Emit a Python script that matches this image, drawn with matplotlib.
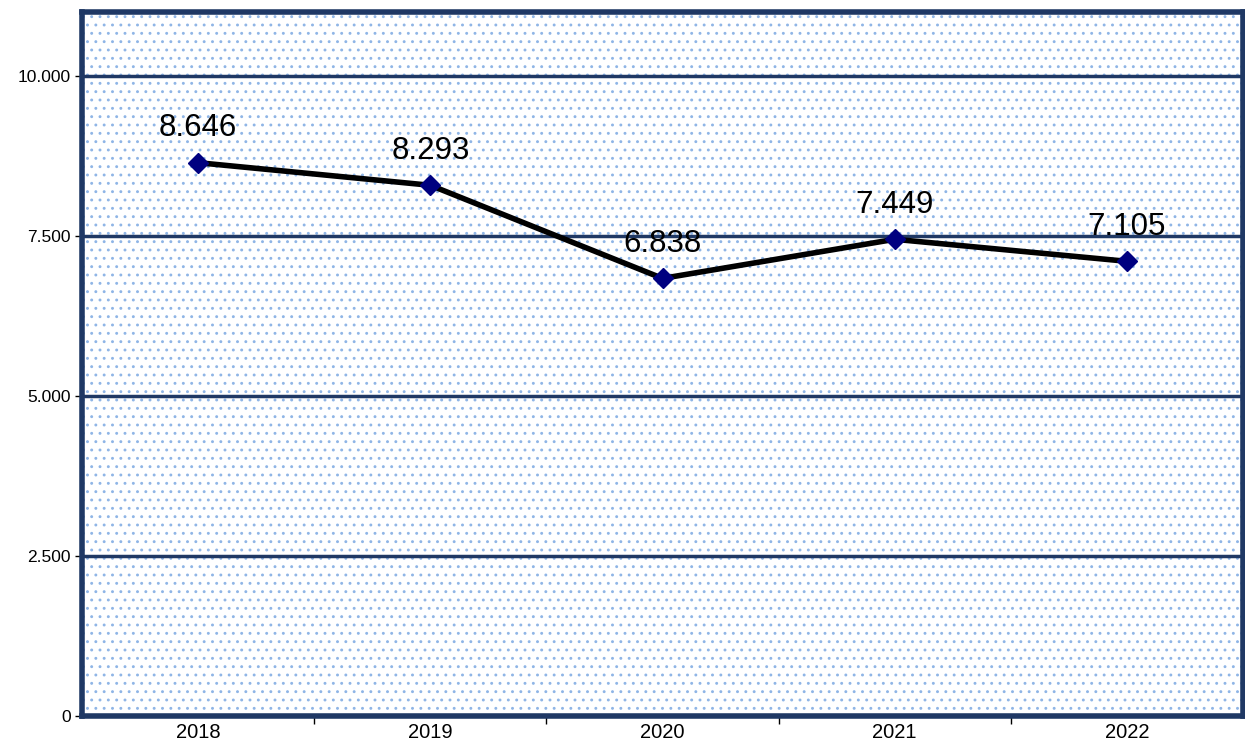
import matplotlib
matplotlib.use("Agg")
import matplotlib.pyplot as plt
from matplotlib.patches import Rectangle

# data
years = ["2018", "2019", "2020", "2021", "2022"]
values = [8646, 8293, 6838, 7449, 7105]
value_labels = ["8.646", "8.293", "6.838", "7.449", "7.105"]
y_ticks = [0, 2500, 5000, 7500, 10000]

plt.rcParams['font.family'] = ['Liberation Sans', 'DejaVu Sans']
plt.rcParams['hatch.linewidth'] = 0.9

navy = "#1f3864"

fig = plt.figure(figsize=(12.45, 7.43), dpi=100)
ax = fig.add_axes([0.0659, 0.0363, 0.9325, 0.9475])

# dotted background (Excel 5% pattern look)
bg = Rectangle((0, 0), 1, 1, transform=ax.transAxes, facecolor="white",
               edgecolor="#8fb5e6", linewidth=0, hatch="..", zorder=0)
ax.add_patch(bg)

x = list(range(len(years)))
ax.plot(x, values, color="black", linewidth=4, zorder=3)
ax.plot(x, values, linestyle="none", marker="D", markersize=10,
        color="#000080", zorder=4)

for xi, v, lab in zip(x, values, value_labels):
    ax.annotate(lab, (xi, v), xytext=(0, 25), textcoords="offset points",
                ha="center", va="center", fontsize=22.5, color="black", zorder=5)

ax.set_xlim(-0.5, len(years) - 0.5)
ax.set_ylim(0, 11000)

ax.set_yticks(y_ticks)
ax.set_yticklabels(["0" if t == 0 else f"{t/1000:.3f}" for t in y_ticks])

ax.set_xticks(x)
ax.set_xticklabels(years)
ax.set_xticks([i + 0.5 for i in range(len(years) - 1)], minor=True)
ax.tick_params(axis="x", which="major", length=0, labelsize=14.5, pad=5)
ax.tick_params(axis="x", which="minor", length=6, width=1, color="black",
               direction="out")
ax.tick_params(axis="y", length=5, width=1, color="black", labelsize=12.5, pad=3)

for t in y_ticks[1:]:
    ax.axhline(t, color=navy, linewidth=2.5, zorder=2)

for s in ax.spines.values():
    s.set_color(navy)
    s.set_linewidth(4)

fig.savefig("out.png", dpi=100)
